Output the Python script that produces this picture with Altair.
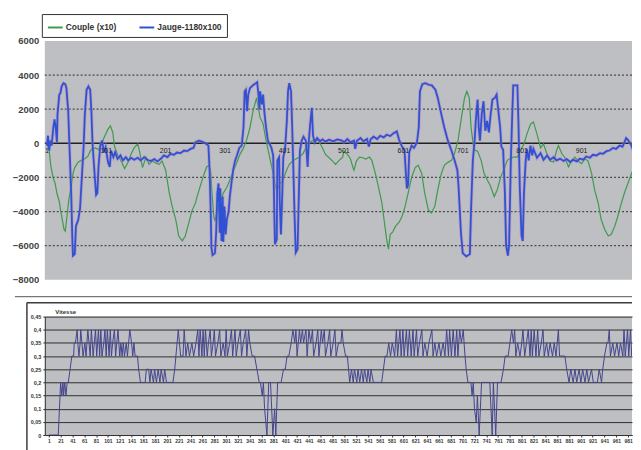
import altair as alt
import pandas as pd

SERIES = ["Couple (x10)", "Jauge-1180x100"]
COLORS = ["#3f9a4e", "#2f52d2"]

COUPLE_X = [1, 5, 8, 12, 15, 18, 22, 24, 27, 30, 32, 35, 38, 42, 45, 48, 54, 59, 65, 70, 74, 77, 83, 88, 93, 98,
            104, 108, 112, 115, 120, 126, 132, 137, 143, 148, 154, 157, 162, 168, 173, 179, 184, 190, 195, 201,
            207, 212, 218, 223, 229, 234, 240, 245, 251, 254, 259, 265, 270, 274, 277, 279, 282, 284, 287, 293,
            298, 304, 309, 315, 320, 326, 332, 337, 343, 348, 354, 357, 360, 365, 370, 376, 382, 385, 388, 393,
            398, 404, 409, 415, 420, 426, 432, 437, 443, 448, 454, 459, 465, 470, 476, 482, 487, 493, 499, 501,
            507, 512, 516, 518, 522, 527, 533, 538, 544, 548, 554, 559, 565, 570, 573, 576, 579, 583, 588, 594,
            599, 604, 609, 615, 621, 626, 632, 637, 643, 648, 654, 659, 665, 670, 676, 682, 687, 693, 698, 704,
            708, 712, 715, 720, 726, 732, 737, 743, 747, 754, 759, 765, 770, 776, 782, 787, 793, 798, 804, 809,
            815, 820, 826, 832, 837, 843, 848, 854, 859, 862, 868, 873, 879, 884, 890, 895, 901, 907, 912, 918,
            923, 929, 934, 940, 946, 951, 957, 962, 968, 973, 979, 984, 990, 994]
COUPLE_Y = [-39, -424, -1387, -2062, -2351, -2929, -3411, -3893, -4471, -5049, -5145, -4278, -3314, -2544, -1773,
            -1426, -1098, -1002, -906, -771, -462, -328, -270, -385, -39, 385, 829, 1021, 636, -193, -655, -1041,
            -1484, -1156, -617, -270, -39, -462, -1426, -809, -1233, -1041, -1156, -1233, -1041, -1580, -2891,
            -3700, -4471, -5434, -5723, -5434, -4663, -3989, -3507, -3122, -2544, -1869, -1387, -1291, -1773,
            -2929, -4278, -4567, -3989, -3411, -2929, -2582, -2158, -1619, -1195, -655, -270, 154, 925, 1888,
            2659, 2081, 1503, 1156, 154, -809, -1773, -2389, -2775, -2389, -2197, -1619, -1233, -1041, -925,
            -809, -617, -270, 39, 154, 231, 116, -270, -655, -848, -1041, -1233, -1002, -809, -462, -655, -906,
            -1387, -1580, -1041, -809, -848, -925, -809, -1002, -1773, -2544, -3507, -4856, -5627, -6205, -5338,
            -5203, -4856, -4625, -4278, -3700, -2929, -2004, -1426, -1291, -1773, -2929, -3893, -4085, -3700,
            -2737, -1773, -1291, -1118, -1002, -617, 154, 1310, 2659, 3045, 2659, 925, -385, -462, -1002, -1773,
            -2197, -2447, -3122, -2737, -1966, -1580, -1002, -848, -809, -809, -424, -39, 540, 1118, 1253, 540,
            -270, -39, -655, -1041, -1098, -424, -135, -617, -848, -1387, -1002, -809, -1041, -1195, -906, -1041,
            -1773, -2737, -3507, -4471, -5049, -5434, -5338, -4856, -4278, -3507, -2929, -2351, -1869, -1387,
            -1195]

JAUGE_X = [1, 3, 5, 7, 9, 12, 14, 16, 18, 19, 22, 24, 26, 29, 32, 34, 37, 39, 42, 44, 45, 48, 50, 54, 57, 60,
           63, 65, 68, 71, 74, 76, 78, 81, 84, 86, 88, 91, 94, 97, 100, 104, 107, 109, 113, 116, 120, 125, 129,
           134, 138, 143, 148, 154, 159, 165, 170, 176, 182, 187, 193, 198, 204, 209, 215, 220, 226, 232, 237,
           243, 248, 251, 257, 262, 268, 273, 275, 277, 278, 280, 284, 286, 288, 290, 292, 293, 295, 297, 298,
           300, 302, 304, 307, 309, 312, 315, 318, 321, 325, 329, 332, 334, 336, 338, 340, 343, 346, 349, 353,
           355, 357, 359, 360, 363, 365, 367, 370, 373, 376, 379, 382, 384, 385, 388, 389, 392, 393, 395, 397,
           399, 402, 405, 407, 409, 412, 414, 416, 418, 420, 423, 425, 427, 430, 433, 437, 440, 442, 444, 447,
           449, 452, 456, 461, 465, 470, 476, 483, 490, 498, 501, 507, 512, 518, 520, 523, 529, 534, 540, 543,
           546, 551, 557, 562, 568, 573, 579, 584, 590, 594, 598, 603, 605, 607, 609, 611, 615, 619, 624, 627,
           629, 633, 638, 644, 649, 655, 659, 665, 670, 676, 682, 687, 692, 694, 696, 698, 701, 707, 713, 715,
           718, 721, 723, 726, 728, 730, 733, 736, 739, 742, 745, 748, 751, 755, 758, 761, 764, 766, 769, 772,
           774, 777, 779, 782, 784, 786, 793, 795, 797, 800, 802, 804, 807, 809, 812, 815, 818, 820, 826, 832,
           837, 843, 848, 854, 859, 865, 871, 876, 882, 887, 893, 898, 904, 909, 915, 920, 926, 932, 937, 943,
           948, 954, 959, 965, 970, 976, 980, 985, 989, 993, 994]
JAUGE_Y = [-135, 443, -424, 154, -135, 925, 1407, 925, 58, 1696, 2852, 2948, 3334, 3526, 3469, 3237, 1888, -39,
           -2929, -5627, -6590, -6494, -4856, -4471, -3796, -1966, -135, 1696, 3141, 3334, 3141, 1888, -39, -1580,
           -3025, -2929, -1387, -135, 154, -520, -231, -1098, -1387, -424, -809, -520, -906, -713, -1002, -809,
           -1002, -848, -963, -848, -1002, -809, -963, -1041, -925, -1060, -906, -713, -809, -617, -674, -540,
           -578, -424, -462, -328, -270, 58, 154, 96, 0, -135, -1580, -4278, -6109, -6552, -6436, -5241, -2929,
           -2351, -5241, -2640, -5723, -3122, -5781, -3700, -5338, -4471, -3989, -3122, -2255, -1484, -1002,
           -713, -270, -135, 925, 3045, 3141, 1888, 2852, 3237, 3334, 3430, 3526, 3584, 2948, 1985, 3045, 2274,
           2852, 1888, 925, 154, -39, -270, -713, -4278, -5916, -5627, -1002, -809, -3314, -5338, -3314, -809,
           -328, 1310, 3045, 3526, 3045, 925, -1580, -4278, -6398, -6205, -3314, -424, 154, 385, 154, -1387, 154,
           1021, 2081, 443, 58, 308, 116, 231, 96, 212, 116, 231, 154, 58, 250, 58, 154, -328, 154, 308, 116, 250,
           -193, 231, 385, 250, 443, 347, 501, 424, 578, 694, 193, -135, -424, -1580, -2640, -2447, -520, -135,
           -270, 58, 925, 3045, 3469, 3526, 3430, 3392, 3141, 2659, 1696, 925, 154, -424, -963, -1580, -2544,
           -3893, -5241, -6436, -6629, -6494, -3893, -1002, 154, 1310, 2563, 925, 154, 1696, 2467, 732, 1310,
           636, 1696, 2563, 2659, 2852, 1888, 925, -193, -385, -2929, -5974, -6590, -5974, -1002, 1310, 3392,
           3392, 925, -2544, -5434, -5723, -2929, -1002, -328, -1002, -135, -713, -328, -848, -578, -963, -713,
           -963, -809, -1002, -906, -1041, -925, -1098, -963, -1060, -906, -963, -771, -848, -674, -713, -578,
           -617, -462, -424, -270, -328, -135, -193, 308, 154, -135, -520, -2544, -3700]

# Vitesse: (sample, speed) vertices
VITESSE = [
    (1, 0.0), (17, 0.0), (21, 0.2), (23, 0.15), (25, 0.2), (26, 0.15), (28, 0.2), (30, 0.15), (32, 0.2),
    (34, 0.2), (37, 0.25), (40, 0.3), (43, 0.3), (44, 0.35), (46, 0.35), (49, 0.4), (50, 0.35), (52, 0.3),
    (54, 0.35), (55, 0.4), (57, 0.35), (59, 0.3), (62, 0.35), (64, 0.3), (67, 0.4), (69, 0.35), (71, 0.3),
    (73, 0.4), (76, 0.3), (78, 0.35), (80, 0.4), (82, 0.3), (85, 0.4), (87, 0.3), (89, 0.4), (91, 0.3),
    (94, 0.35), (96, 0.4), (98, 0.3), (100, 0.4), (103, 0.3), (105, 0.4), (107, 0.3), (109, 0.35), (112, 0.4),
    (114, 0.3), (116, 0.35), (118, 0.4), (121, 0.3), (123, 0.35), (125, 0.3), (127, 0.35), (129, 0.3),
    (132, 0.35), (134, 0.3), (136, 0.35), (138, 0.4), (141, 0.35), (143, 0.3), (145, 0.35), (147, 0.3),
    (151, 0.3), (153, 0.25), (156, 0.2), (164, 0.2), (166, 0.25), (170, 0.25), (172, 0.2), (174, 0.25),
    (178, 0.2), (180, 0.25), (183, 0.2), (186, 0.25), (189, 0.2), (191, 0.25), (195, 0.2), (197, 0.25),
    (200, 0.2), (211, 0.2), (214, 0.25), (216, 0.3), (218, 0.35), (220, 0.4), (222, 0.35), (224, 0.3),
    (228, 0.3), (230, 0.4), (233, 0.3), (236, 0.35), (239, 0.3), (243, 0.35), (246, 0.3), (250, 0.35),
    (253, 0.4), (255, 0.3), (257, 0.4), (260, 0.3), (262, 0.4), (264, 0.3), (266, 0.4), (269, 0.3),
    (271, 0.35), (274, 0.4), (276, 0.3), (279, 0.35), (281, 0.4), (283, 0.3), (287, 0.35), (290, 0.4),
    (292, 0.3), (296, 0.35), (299, 0.3), (301, 0.4), (303, 0.3), (307, 0.35), (310, 0.4), (312, 0.3),
    (316, 0.4), (318, 0.3), (321, 0.35), (325, 0.4), (327, 0.3), (330, 0.35), (334, 0.4), (336, 0.3),
    (339, 0.4), (341, 0.35), (345, 0.3), (349, 0.3), (353, 0.25), (357, 0.2), (359, 0.2), (362, 0.15),
    (364, 0.2), (366, 0.1), (370, 0.0), (373, 0.2), (376, 0.2), (380, 0.0), (383, 0.1), (385, 0.0),
    (388, 0.2), (392, 0.2), (394, 0.2), (398, 0.25), (401, 0.25), (404, 0.3), (407, 0.3), (411, 0.35),
    (414, 0.4), (417, 0.35), (419, 0.4), (421, 0.3), (425, 0.4), (427, 0.35), (430, 0.4), (432, 0.35),
    (436, 0.4), (438, 0.3), (441, 0.4), (444, 0.35), (447, 0.4), (449, 0.3), (453, 0.35), (456, 0.4),
    (458, 0.3), (462, 0.4), (464, 0.35), (467, 0.4), (469, 0.3), (473, 0.35), (476, 0.4), (478, 0.3),
    (482, 0.35), (485, 0.4), (487, 0.3), (491, 0.35), (495, 0.35), (497, 0.4), (499, 0.35), (503, 0.3),
    (506, 0.3), (508, 0.25), (510, 0.2), (513, 0.25), (516, 0.2), (518, 0.25), (522, 0.2), (524, 0.25),
    (527, 0.2), (530, 0.25), (533, 0.2), (535, 0.25), (539, 0.2), (541, 0.25), (544, 0.2), (546, 0.25),
    (550, 0.2), (564, 0.2), (567, 0.25), (570, 0.3), (573, 0.3), (576, 0.35), (579, 0.3), (582, 0.35),
    (586, 0.3), (589, 0.4), (591, 0.3), (595, 0.4), (597, 0.3), (600, 0.4), (602, 0.3), (606, 0.4),
    (608, 0.3), (611, 0.4), (614, 0.3), (617, 0.4), (619, 0.3), (623, 0.4), (625, 0.3), (628, 0.35),
    (632, 0.4), (634, 0.3), (637, 0.35), (641, 0.3), (644, 0.35), (649, 0.4), (651, 0.3), (654, 0.35),
    (657, 0.3), (661, 0.35), (664, 0.3), (668, 0.35), (671, 0.3), (674, 0.4), (677, 0.3), (679, 0.4),
    (682, 0.3), (685, 0.4), (688, 0.3), (691, 0.4), (693, 0.3), (696, 0.4), (699, 0.35), (702, 0.4),
    (705, 0.3), (707, 0.25), (710, 0.2), (715, 0.2), (717, 0.15), (719, 0.2), (721, 0.1), (724, 0.05),
    (726, 0.15), (729, 0.0), (733, 0.2), (747, 0.2), (751, 0.0), (753, 0.2), (757, 0.0), (760, 0.2),
    (766, 0.2), (770, 0.25), (773, 0.3), (778, 0.3), (781, 0.35), (784, 0.4), (787, 0.35), (789, 0.4),
    (791, 0.3), (794, 0.35), (798, 0.3), (801, 0.35), (803, 0.4), (806, 0.3), (809, 0.35), (812, 0.4),
    (815, 0.3), (817, 0.4), (819, 0.3), (822, 0.4), (825, 0.3), (828, 0.4), (830, 0.3), (834, 0.35),
    (837, 0.4), (839, 0.3), (843, 0.35), (846, 0.3), (849, 0.35), (853, 0.3), (856, 0.35), (859, 0.3),
    (863, 0.4), (865, 0.3), (870, 0.3), (874, 0.3), (877, 0.25), (881, 0.2), (884, 0.25), (888, 0.2),
    (891, 0.25), (894, 0.2), (898, 0.25), (901, 0.2), (904, 0.25), (908, 0.2), (911, 0.25), (914, 0.2),
    (919, 0.25), (922, 0.2), (929, 0.2), (932, 0.25), (936, 0.2), (938, 0.25), (941, 0.3), (945, 0.35),
    (947, 0.35), (949, 0.4), (951, 0.3), (955, 0.35), (958, 0.3), (962, 0.35), (965, 0.3), (968, 0.35),
    (972, 0.3), (974, 0.4), (976, 0.3), (980, 0.4), (982, 0.3), (985, 0.4), (987, 0.3), (991, 0.4),
    (993, 0.35), (996, 0.4), (1001, 0.35),
]

TOP_YTICKS = [-8000, -6000, -4000, -2000, 0, 2000, 4000, 6000]
TOP_GRID = [-6000, -4000, -2000, 2000, 4000]
TOP_XLABELS = [1, 101, 201, 301, 401, 501, 601, 701, 801, 901]
BOT_YTICKS = [0, 0.05, 0.1, 0.15, 0.2, 0.25, 0.3, 0.35, 0.4, 0.45]
BOT_XTICKS = [1, 21, 41, 61, 81, 101, 121, 141, 161, 181, 201, 221, 241, 261, 281, 301, 321, 341, 361, 381,
              401, 421, 441, 461, 481, 501, 521, 541, 561, 581, 601, 621, 641, 661, 681, 701, 721, 741, 761,
              781, 801, 821, 841, 861, 881, 901, 921, 941, 961, 981]

FONT = "Liberation Sans"
TXT = "#333333"
W = 590

couple = pd.DataFrame({"s": COUPLE_X, "v": COUPLE_Y, "serie": SERIES[0]})
jauge = pd.DataFrame({"s": JAUGE_X, "v": JAUGE_Y, "serie": SERIES[1]})
vit = pd.DataFrame(VITESSE, columns=["s", "v"])
xlab = pd.DataFrame({"s": TOP_XLABELS, "v": [0] * len(TOP_XLABELS)})

xs_top = alt.Scale(domain=[-2.35, 985.9], nice=False, zero=False)
ys_top = alt.Scale(domain=[-8000, 6000], nice=False)

color = alt.Color(
    "serie:N",
    scale=alt.Scale(domain=SERIES, range=COLORS),
    legend=alt.Legend(
        title=None, orient="none", legendX=-3, legendY=-27, direction="horizontal",
        fillColor="white", strokeColor="#333333", padding=5, symbolType="stroke",
        symbolSize=220, symbolStrokeWidth=2, labelFont=FONT, labelFontSize=8.5,
        labelFontWeight="bold", labelColor=TXT, columnPadding=18, labelOffset=2,
    ),
)


def yax():
    return alt.Axis(
        values=TOP_YTICKS, title=None, grid=False, ticks=False, domain=False, labelOverlap=False,
        labelFont=FONT, labelFontSize=9.5, labelFontWeight="bold", labelColor="#444444",
        labelPadding=6, format="d")


def yenc():
    return alt.Y("v:Q", scale=ys_top, axis=yax())


def xenc():
    return alt.X("s:Q", scale=xs_top, axis=None)


dots = alt.Chart(pd.DataFrame({"v": TOP_GRID})).mark_rule(
    color="#4a4a4a", strokeDash=[2, 2], strokeWidth=1.2).encode(y=yenc())
zero = alt.Chart(pd.DataFrame({"v": [0]})).mark_rule(
    color="#202020", strokeWidth=1.6).encode(y=yenc())
green = alt.Chart(couple).mark_line(strokeWidth=1.2, clip=True).encode(
    x=xenc(), y=yenc(), color=color)
halo = alt.Chart(jauge).mark_line(strokeWidth=3.4, color="#b47ac8", opacity=0.45, clip=True).encode(
    x=xenc(), y=yenc())
blue = alt.Chart(jauge).mark_line(strokeWidth=1.8, clip=True).encode(
    x=xenc(), y=yenc(), color=color)
xlabels = alt.Chart(xlab).mark_text(
    dy=8, fontSize=7, font=FONT, color="#222222").encode(
    x=xenc(), y=yenc(), text=alt.Text("s:Q", format="d"))

top = alt.layer(dots, zero, green, halo, blue, xlabels).properties(width=W, height=240)

xs_bot = alt.Scale(domain=[-5.73, 987.5], nice=False, zero=False)
ys_bot = alt.Scale(domain=[0, 0.45], nice=False)

one = pd.DataFrame({"a": [0]})
sep = alt.Chart(one).mark_rule(color="#555555", strokeWidth=1, clip=False).encode(
    x=alt.value(-30), x2=alt.value(W), y=alt.value(-20))
frame_top = alt.Chart(one).mark_rule(color="#3c3c3c", strokeWidth=1.5, clip=False).encode(
    x=alt.value(-18), x2=alt.value(W), y=alt.value(-14))
frame_left = alt.Chart(one).mark_rule(color="#3c3c3c", strokeWidth=1.5, clip=False).encode(
    x=alt.value(-18), y=alt.value(-14), y2=alt.value(140))
vline = alt.Chart(vit).mark_line(color="#45458c", strokeWidth=1, clip=True).encode(
    x=alt.X("s:Q", scale=xs_bot, axis=alt.Axis(
        values=BOT_XTICKS, title=None, grid=False, labelOverlap=False, labelFlush=False,
        labelFont=FONT, labelFontSize=5, labelFontWeight="bold", labelColor=TXT,
        tickSize=2, tickColor="#333333", domainColor="#333333", labelPadding=2)),
    y=alt.Y("v:Q", scale=ys_bot, axis=alt.Axis(
        values=BOT_YTICKS, grid=True, gridColor="#2e2e2e", gridWidth=1, labelOverlap=False,
        labelExpr="replace(toString(datum.value), '.', ',')",
        labelFont=FONT, labelFontSize=5.5, labelFontWeight="bold", labelColor=TXT,
        tickSize=2, tickColor="#333333", domainColor="#333333", labelPadding=2,
        title="Vitesse", titleAngle=0, titleAlign="left", titleBaseline="bottom",
        titleX=10, titleY=-2, titleFont=FONT, titleFontSize=6, titleFontWeight="bold",
        titleColor=TXT)),
)
bottom = alt.layer(sep, frame_top, frame_left, vline).properties(width=W, height=119)

chart = alt.vconcat(top, bottom, spacing=11).resolve_scale(
    x="independent", y="independent", color="independent"
).resolve_legend(color="independent").configure_view(
    fill="#bdbfc2", stroke=None
).properties(padding={"left": 4, "top": 4, "right": 0, "bottom": 0})

chart.save("out.html", embed_options={"renderer": "svg", "actions": False})
